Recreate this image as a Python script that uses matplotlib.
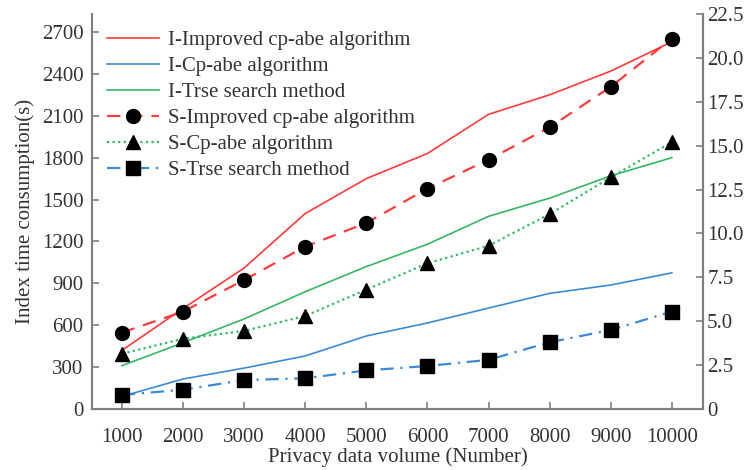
import numpy as np
import matplotlib
matplotlib.use("Agg")
import matplotlib.pyplot as plt
from matplotlib.lines import Line2D

plt.rcParams['font.family'] = ['Liberation Serif', 'DejaVu Serif']

volume = [1000, 2000, 3000, 4000, 5000, 6000, 7000, 8000, 9000, 10000]

# index time (left axis, s)
i_improved = [420, 720, 1010, 1400, 1650, 1830, 2110, 2250, 2420, 2630]
i_cpabe = [90, 215, 293, 380, 523, 616, 723, 828, 888, 975]
i_trse = [310, 475, 645, 840, 1020, 1180, 1380, 1510, 1670, 1800]

# search time (right axis)
s_improved = [4.35, 5.55, 7.35, 9.25, 10.6, 12.55, 14.2, 16.05, 18.35, 21.1]
s_cpabe = [3.15, 4.0, 4.45, 5.3, 6.8, 8.3, 9.3, 11.1, 13.2, 15.2]
s_trse = [0.8, 1.1, 1.65, 1.75, 2.2, 2.45, 2.8, 3.8, 4.5, 5.55]

left_ticks = [0, 300, 600, 900, 1200, 1500, 1800, 2100, 2400, 2700]
right_ticks = [0, 2.5, 5.0, 7.5, 10.0, 12.5, 15.0, 17.5, 20.0, 22.5]
right_labels = ['0', '2.5', '5.0', '7.5', '10.0', '12.5', '15.0', '17.5', '20.0', '22.5']

red = '#ff3b3b'
blue = '#3a8bd6'
green = '#33b864'
spine_c = '#7f7f7f'
txt_c = '#333333'

fig = plt.figure(figsize=(7.45, 4.70), dpi=100)
ax = fig.add_axes([92/745, 61/470, 611/745, 395/470])
ax2 = ax.twinx()

ax.plot(volume, i_improved, color=red, lw=1.2)
ax.plot(volume, i_cpabe, color=blue, lw=1.2)
ax.plot(volume, i_trse, color=green, lw=1.2)

ax2.plot(volume, s_improved, color=red, lw=1.6, ls=(0, (6, 4)),
         marker='o', ms=10, mfc='black', mec='black')
ax2.plot(volume, s_cpabe, color=green, lw=1.6, ls=(0, (1, 1.5)),
         marker='^', ms=10, mfc='black', mec='black')
ax2.plot(volume, s_trse, color=blue, lw=1.6, ls=(0, (6, 3, 1, 3)),
         marker='s', ms=10, mfc='black', mec='black')

ax.set_xlim(510, 10510)
ax.set_ylim(0, 2700 * 395 / 377)
ax2.set_ylim(0, 22.5)

ax.set_xticks(volume)
ax.set_yticks(left_ticks)
ax2.set_yticks(right_ticks)
ax2.set_yticklabels(right_labels)

for a in (ax, ax2):
    for s in a.spines.values():
        s.set_color(spine_c)
        s.set_linewidth(1.5)
    a.spines['top'].set_visible(False)
    a.tick_params(direction='in', length=5, width=1.2, color=spine_c,
                  labelsize=15, labelcolor=txt_c)
ax.spines['left'].set_bounds(0, 2700)
ax.tick_params(axis='x', pad=14)
ax.tick_params(axis='y', pad=6)
ax2.tick_params(axis='y', pad=3)

ax.set_xlabel('Privacy data volume (Number)', fontsize=15, color=txt_c, labelpad=0)
ax.set_ylabel('Index time consumption(s)', fontsize=15, color=txt_c, labelpad=5)

handles = [
    Line2D([], [], color=red, lw=1.2),
    Line2D([], [], color=blue, lw=1.2),
    Line2D([], [], color=green, lw=1.2),
    Line2D([], [], color=red, lw=1.6, ls=(0, (6, 4)), marker='o', ms=10, mfc='black', mec='black'),
    Line2D([], [], color=green, lw=1.6, ls=(0, (1, 1.5)), marker='^', ms=10, mfc='black', mec='black'),
    Line2D([], [], color=blue, lw=1.6, ls=(0, (6, 3, 1, 3)), marker='s', ms=10, mfc='black', mec='black'),
]
labels = ['I-Improved cp-abe algorithm', 'I-Cp-abe algorithm', 'I-Trse search method',
          'S-Improved cp-abe algorithm', 'S-Cp-abe algorithm', 'S-Trse search method']
leg = ax2.legend(handles, labels, loc='upper left', bbox_to_anchor=(0.0, 0.995),
                 frameon=False, fontsize=15, handlelength=2.5, labelspacing=0.31,
                 handletextpad=0.45, borderaxespad=0.3)
for t in leg.get_texts():
    t.set_color(txt_c)

fig.savefig('out.png', dpi=100)
